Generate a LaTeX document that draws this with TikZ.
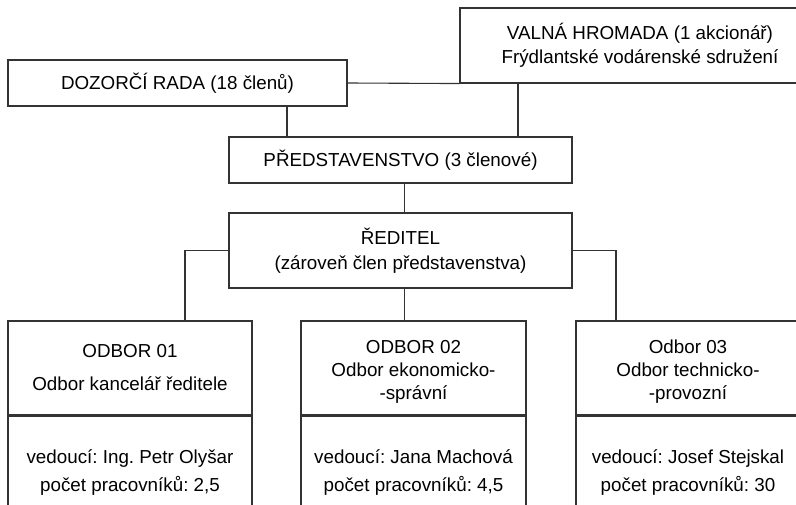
\documentclass[tikz,border=0pt]{standalone}
\usepackage{fontspec}
\setmainfont{Liberation Sans}
\usetikzlibrary{positioning}
\frenchspacing

\begin{document}
\begin{tikzpicture}[x=1pt, y=-1pt,
    box/.style={draw=black!80, line width=1.1pt, inner sep=0pt, align=center,
      font=\fontsize{18.8}{24}\selectfont},
    link/.style={draw=black!80, line width=1.1pt}]
  \useasboundingbox (0,0) rectangle (796,505);
  \clip (0,0) rectangle (796,505);
  % top: supervisory board and general meeting
  \node[box, minimum width=339, minimum height=46] (dozor) at (177.5,83) {DOZORČÍ RADA (18 členů)};
  \node[box, minimum width=360, minimum height=75] (valna) at (640,45.5)
    {VALNÁ HROMADA (1 akcionář)\\Frýdlantské vodárenské sdružení};
  \node[box, minimum width=343, minimum height=46] (pred) at (400.5,160) {PŘEDSTAVENSTVO (3 členové)};
  \node[box, minimum width=343, minimum height=75] (reditel) at (400.5,250.5)
    {ŘEDITEL\\[1pt](zároveň člen představenstva)};
  % departments
  \node[box, minimum width=244, minimum height=94] (hlav1) at (130,368)
    {ODBOR 01\\[9pt]Odbor kancelář ředitele};
  \node[box, minimum width=225, minimum height=94] (hlav2) at (413.5,368)
    {\rule{0pt}{20.5pt}ODBOR 02\\[-1pt]Odbor ekonomicko-\\[-1pt]-správní};
  \node[box, minimum width=224, minimum height=94] (hlav3) at (688,368)
    {\rule{0pt}{20.5pt}Odbor 03\\[-1pt]Odbor technicko-\\[-1pt]-provozní};
  \node[box, minimum width=244, minimum height=112, below=0pt of hlav1] (info1)
    {vedoucí: Ing. Petr Olyšar\\[4pt]počet pracovníků: 2,5};
  \node[box, minimum width=225, minimum height=112, below=0pt of hlav2] (info2)
    {vedoucí: Jana Machová\\[4pt]počet pracovníků: 4,5};
  \node[box, minimum width=224, minimum height=112, below=0pt of hlav3] (info3)
    {vedoucí: Josef Stejskal\\[4pt]počet pracovníků: 30};
  % taps for the connectors
  \coordinate (dtap) at (287,0);
  \coordinate (vtap) at (518,0);
  \coordinate (mtap) at (404.5,0);
  \coordinate (ltap) at (185,0);
  \coordinate (rtap) at (616,0);
  \draw[link] (dozor.east) -- (valna.south west);
  \draw[link] (dozor.south -| dtap) -- (pred.north -| dtap);
  \draw[link] (valna.south -| vtap) -- (pred.north -| vtap);
  \draw[link] (pred.south -| mtap) -- (reditel.north -| mtap);
  \draw[link] (reditel.south -| mtap) -- (hlav2.north -| mtap);
  \draw[link] (reditel.west) -| (hlav1.north -| ltap);
  \draw[link] (reditel.east) -| (hlav3.north -| rtap);
\end{tikzpicture}
\end{document}
